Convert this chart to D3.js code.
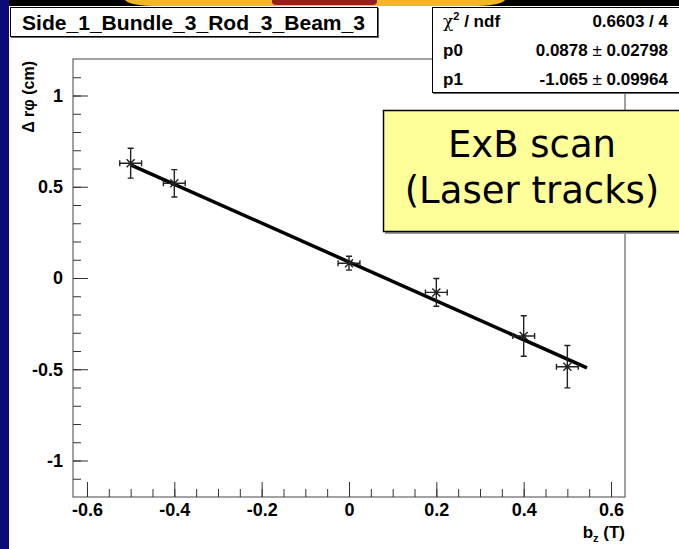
<!DOCTYPE html>
<html>
<head>
<meta charset="utf-8">
<script src="https://cdn.jsdelivr.net/npm/d3@7"></script>
<style>
  html, body { margin: 0; padding: 0; background: #fff; }
  svg { display: block; }
</style>
</head>
<body>
<svg id="chart"></svg>
<script>
// data
const bz = [-0.5, -0.4, 0, 0.2, 0.4, 0.5];
const drphi = [0.629, 0.519, 0.081, -0.079, -0.318, -0.486];
const drphiErr = [0.082, 0.075, 0.038, 0.076, 0.111, 0.116];
const bzErr = [0.025, 0.025, 0.025, 0.025, 0.025, 0.025];

// fit y = p0 + p1*x, drawn over the fit range
const fitP0 = 0.0878;
const fitP1 = -1.065;
const fitRange = [-0.5, 0.545];

const xMajor = [-0.6, -0.4, -0.2, 0, 0.2, 0.4, 0.6];
const xMinor = d3.range(-0.6, 0.61, 0.05);
const yMajor = [-1, -0.5, 0, 0.5, 1];
const yMinor = d3.range(-1.1, 1.11, 0.1);
const xTickLabels = ["-0.6", "-0.4", "-0.2", "0", "0.2", "0.4", "0.6"];
const yTickLabels = ["-1", "-0.5", "0", "0.5", "1"];

const statsLabels = ["χ² / ndf", "p0", "p1"];
const statsValues = ["0.6603 / 4", "0.0878 ± 0.02798", "-1.065 ± 0.09964"];

const W = 679, H = 549;
const frame = { left: 73, right: 625, top: 59, bottom: 497 };

const svg = d3.select("#chart").attr("width", W).attr("height", H);

// page background (slide decoration)
svg.append("rect").attr("width", W).attr("height", H).attr("fill", "#fff");
svg.append("rect").attr("x", 0).attr("y", 0).attr("width", W).attr("height", 6).attr("fill", "#000");
svg.append("path")
  .attr("d", "M125,0 L505,0 Q500,6 470,6 L160,6 Q130,6 125,0 Z")
  .attr("fill", "#f2b824");
svg.append("path")
  .attr("d", "M272,0 L377,0 L377,2 Q377,5 372,5 L277,5 Q272,5 272,2 Z")
  .attr("fill", "#9a1c22");
svg.append("rect").attr("x", 0).attr("y", 0).attr("width", 9).attr("height", H).attr("fill", "#0a0a78");

const x = d3.scaleLinear().domain([-0.632, 0.632]).range([frame.left, frame.right]);
const y = d3.scaleLinear().domain([-1.2, 1.2]).range([frame.bottom, frame.top]);

const font = "'Liberation Sans', Arial, Helvetica, sans-serif";

// frame
svg.append("rect")
  .attr("x", frame.left).attr("y", frame.top)
  .attr("width", frame.right - frame.left).attr("height", frame.bottom - frame.top)
  .attr("fill", "#fff").attr("stroke", "#444").attr("stroke-width", 1);

// x axis
const xMinorAxis = svg.append("g")
  .attr("transform", `translate(0,${frame.bottom})`)
  .call(d3.axisBottom(x).tickValues(xMinor).tickSize(-8).tickFormat(""));
const xAxis = svg.append("g")
  .attr("transform", `translate(0,${frame.bottom})`)
  .call(d3.axisBottom(x).tickValues(xMajor).tickSize(-15).tickPadding(6)
    .tickFormat((d, i) => xTickLabels[i]));

// y axis
const yMinorAxis = svg.append("g")
  .attr("transform", `translate(${frame.left},0)`)
  .call(d3.axisLeft(y).tickValues(yMinor).tickSize(-8).tickFormat(""));
const yAxis = svg.append("g")
  .attr("transform", `translate(${frame.left},0)`)
  .call(d3.axisLeft(y).tickValues(yMajor).tickSize(-15).tickPadding(10)
    .tickFormat((d, i) => yTickLabels[i]));

[xMinorAxis, xAxis, yMinorAxis, yAxis].forEach(g => {
  g.select(".domain").remove();
  g.selectAll("line").attr("stroke", "#333").attr("stroke-width", 1);
  g.selectAll("text")
    .attr("font-family", font).attr("font-weight", "bold")
    .attr("font-size", 18).attr("fill", "#000");
});

// axis titles
const xTitle = svg.append("text")
  .attr("x", frame.right).attr("y", 538)
  .attr("text-anchor", "end")
  .attr("font-family", font).attr("font-weight", "bold").attr("font-size", 17);
xTitle.append("tspan").text("b");
xTitle.append("tspan").attr("font-size", 11).attr("dy", 4).text("z");
xTitle.append("tspan").attr("dy", -4).text(" (T)");

svg.append("text")
  .attr("transform", "translate(34,61) rotate(-90)")
  .attr("text-anchor", "end")
  .attr("font-family", font).attr("font-weight", "bold").attr("font-size", 16)
  .text("Δ rφ (cm)");

// fit line
svg.append("line")
  .attr("x1", x(fitRange[0])).attr("y1", y(fitP0 + fitP1 * fitRange[0]))
  .attr("x2", x(fitRange[1])).attr("y2", y(fitP0 + fitP1 * fitRange[1]))
  .attr("stroke", "#000").attr("stroke-width", 3.5);

// points with error bars
const pts = bz.map((v, i) => ({ x: v, y: drphi[i], ex: bzErr[i], ey: drphiErr[i] }));
const cap = 3;
const pg = svg.append("g").attr("stroke", "#222").attr("stroke-width", 1.4).attr("fill", "none");
pts.forEach(p => {
  const cx = x(p.x), cy = y(p.y);
  const x0 = x(p.x - p.ex), x1 = x(p.x + p.ex);
  const y0 = y(p.y - p.ey), y1 = y(p.y + p.ey);
  pg.append("path").attr("d",
    `M${x0},${cy}H${x1}M${cx},${y0}V${y1}` +
    `M${x0},${cy - cap}V${cy + cap}M${x1},${cy - cap}V${cy + cap}` +
    `M${cx - cap},${y0}H${cx + cap}M${cx - cap},${y1}H${cx + cap}` +
    `M${cx - 4},${cy - 4}L${cx + 4},${cy + 4}M${cx - 4},${cy + 4}L${cx + 4},${cy - 4}`);
});

// title box
svg.append("rect").attr("x", 11).attr("y", 8).attr("width", 368).attr("height", 30).attr("fill", "#666");
svg.append("rect").attr("x", 10.5).attr("y", 7.5).attr("width", 367).attr("height", 29)
  .attr("fill", "#fff").attr("stroke", "#000").attr("stroke-width", 1);
svg.append("text")
  .attr("x", 22).attr("y", 30)
  .attr("font-family", font).attr("font-weight", "bold").attr("font-size", 21)
  .attr("textLength", 343).attr("lengthAdjust", "spacingAndGlyphs")
  .text("Side_1_Bundle_3_Rod_3_Beam_3");

// stats box
svg.append("rect").attr("x", 433).attr("y", 8).attr("width", 260).attr("height", 86).attr("fill", "#666");
svg.append("rect").attr("x", 432.5).attr("y", 7.5).attr("width", 260).attr("height", 85)
  .attr("fill", "#fff").attr("stroke", "#000").attr("stroke-width", 1);
const statsY = d3.scaleBand().domain(statsLabels).range([7, 93]);
statsLabels.forEach((lab, i) => {
  const by = statsY(lab) + statsY.bandwidth() / 2 + 6;
  const t = svg.append("text").attr("x", 443).attr("y", by)
    .attr("font-family", font).attr("font-weight", "bold").attr("font-size", 17);
  if (i === 0) {
    t.append("tspan").attr("font-family", "'DejaVu Serif', serif").attr("font-weight", "normal").text("χ");
    t.append("tspan").attr("font-size", 11).attr("dy", -7).text("2");
    t.append("tspan").attr("dy", 7).text(" / ndf");
  } else {
    t.text(lab);
  }
  const v = svg.append("text").attr("x", 668).attr("y", by)
    .attr("text-anchor", "end")
    .attr("font-family", font).attr("font-weight", "bold").attr("font-size", 17);
  const parts = statsValues[i].split(" ± ");
  if (parts.length === 2) {
    v.append("tspan").text(parts[0] + " ");
    v.append("tspan").attr("font-weight", "normal").text("±");
    v.append("tspan").text(" " + parts[1]);
  } else {
    v.text(statsValues[i]);
  }
});

// annotation box
svg.append("rect").attr("x", 385).attr("y", 112).attr("width", 300).attr("height", 122).attr("fill", "#999");
svg.append("rect").attr("x", 383.5).attr("y", 110.5).attr("width", 300).attr("height", 121)
  .attr("fill", "#ffff99").attr("stroke", "#000").attr("stroke-width", 1.5);
const note = svg.append("text")
  .attr("x", 532).attr("text-anchor", "middle")
  .attr("font-family", "'DejaVu Sans', Verdana, sans-serif").attr("font-size", 37).attr("fill", "#000");
note.append("tspan").attr("x", 532).attr("y", 157).text("ExB scan");
note.append("tspan").attr("x", 532).attr("y", 203).text("(Laser tracks)");
</script>
</body>
</html>
